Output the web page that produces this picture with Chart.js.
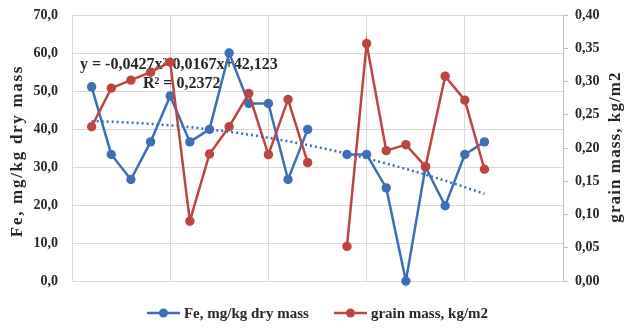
<!DOCTYPE html>
<html>
<head>
<meta charset="utf-8">
<script src="https://cdn.jsdelivr.net/npm/chart.js@4.4.0/dist/chart.umd.min.js"></script>
<style>
    html, body { margin: 0; padding: 0; background: #fff; }
    #wrap { width: 625px; height: 329px; }
</style>
</head>
<body>
<div id="wrap"><canvas id="chart" width="625" height="329"></canvas></div>
<script>
// Dados
const samples = [1, 2, 3, 4, 5, 6, 7, 8, 9, 10, 11, 12, 13, 14, 15, 16, 17, 18, 19, 20, 21];
const feValues = [51.1, 33.3, 26.7, 36.6, 48.7, 36.6, 39.9, 60.0, 46.7, 46.7, 26.7, 39.9, null,
                  33.3, 33.3, 24.5, 0.0, 30.0, 19.8, 33.3, 36.6];
const grainValues = [0.232, 0.290, 0.302, 0.314, 0.329, 0.090, 0.191, 0.232, 0.282, 0.190, 0.273, 0.178, null,
                     0.052, 0.357, 0.196, 0.205, 0.172, 0.308, 0.272, 0.168];
// linha de tendência (pontilhada) lida ao longo da curva
const trendValues = [42.06, 41.92, 41.69, 41.37, 40.97, 40.49, 39.91, 39.26, 38.51, 37.69, 36.77,
                     35.77, 34.69, 33.52, 32.27, 30.92, 29.50, 27.99, 26.39, 24.71, 22.94];
const feTickLabels = ['0,0', '10,0', '20,0', '30,0', '40,0', '50,0', '60,0', '70,0'];
const grainTickLabels = ['0,00', '0,05', '0,10', '0,15', '0,20', '0,25', '0,30', '0,35', '0,40'];
const seriesNames = ['Fe, mg/kg dry mass', 'grain mass, kg/m2'];
const trendText = ['y = -0,0427x²-0,0167x+42,123', 'R² = 0,2372'];

const BLUE = '#3d6fb6';
const RED = '#bc4542';
const TEXT = '#262626';
const GRID = '#d9d9d9';
const SERIF = "'Liberation Serif', 'Times New Roman', serif";

function toPoints(values) {
    return samples.map((x, i) => ({ x: x, y: values[i] }));
}

// Texto da equação (fica atrás das séries)
const equationPlugin = {
    id: 'equation',
    beforeDatasetsDraw(chart) {
        const ctx = chart.ctx;
        const area = chart.chartArea;
        ctx.save();
        ctx.fillStyle = TEXT;
        ctx.font = 'bold 16px ' + SERIF;
        ctx.textBaseline = 'middle';
        ctx.textAlign = 'left';
        ctx.fillText(trendText[0], area.left + 8, area.top + 50);
        ctx.fillText(trendText[1], area.left + 71, area.top + 69);
        ctx.restore();
    }
};

// Desenha texto girado (títulos dos eixos, com espaçamento entre letras)
function drawRotated(ctx, text, x, y, spacing) {
    ctx.save();
    ctx.fillStyle = TEXT;
    ctx.font = 'bold 17px ' + SERIF;
    ctx.letterSpacing = spacing;
    ctx.textAlign = 'center';
    ctx.textBaseline = 'middle';
    ctx.translate(x, y);
    ctx.rotate(-Math.PI / 2);
    ctx.fillText(text, 0, 0);
    ctx.restore();
}

// Títulos dos eixos e legenda
const extrasPlugin = {
    id: 'extras',
    afterDraw(chart) {
        const ctx = chart.ctx;
        const area = chart.chartArea;
        drawRotated(ctx, seriesNames[0], 18, 151, '1.7px');
        drawRotated(ctx, seriesNames[1], 616, 147, '1.1px');

        // legenda
        const colors = [BLUE, RED];
        const symW = 33, gapText = 4, gapItem = 25, y = 313;
        ctx.save();
        ctx.font = 'bold 15px ' + SERIF;
        ctx.textBaseline = 'middle';
        ctx.textAlign = 'left';
        const widths = seriesNames.map(n => symW + gapText + ctx.measureText(n).width);
        const total = widths[0] + widths[1] + gapItem;
        let x = (area.left + area.right) / 2 - total / 2;
        seriesNames.forEach((name, i) => {
            ctx.strokeStyle = colors[i];
            ctx.fillStyle = colors[i];
            ctx.lineWidth = 2.5;
            ctx.beginPath();
            ctx.moveTo(x, y);
            ctx.lineTo(x + symW, y);
            ctx.stroke();
            ctx.beginPath();
            ctx.arc(x + symW / 2, y, 4.5, 0, Math.PI * 2);
            ctx.fill();
            ctx.fillStyle = TEXT;
            ctx.fillText(name, x + symW + gapText, y + 1);
            x += widths[i] + gapItem;
        });
        ctx.restore();
    }
};

// largura fixa dos eixos verticais, sem espaço extra em cima/embaixo
function fixAxis(width) {
    return s => {
        s.width = width;
        s.paddingTop = 0;
        s.paddingBottom = 0;
    };
}

const ctx = document.getElementById('chart').getContext('2d');
const chart = new Chart(ctx, {
    type: 'line',
    data: {
        datasets: [
            {
                label: 'trend', data: toPoints(trendValues), yAxisID: 'y', order: 0,
                borderColor: BLUE, borderWidth: 2.5, borderDash: [2, 3], pointRadius: 0, fill: false
            },
            {
                label: seriesNames[1], data: toPoints(grainValues), yAxisID: 'y1', order: 1,
                borderColor: RED, backgroundColor: RED, borderWidth: 2.5,
                pointRadius: 4.7, pointBorderWidth: 0, pointBackgroundColor: RED, spanGaps: false, clip: false
            },
            {
                label: seriesNames[0], data: toPoints(feValues), yAxisID: 'y', order: 2,
                borderColor: BLUE, backgroundColor: BLUE, borderWidth: 2.5,
                pointRadius: 4.7, pointBorderWidth: 0, pointBackgroundColor: BLUE, spanGaps: false, clip: false
            }
        ]
    },
    options: {
        responsive: false,
        animation: false,
        devicePixelRatio: 1,
        layout: { padding: { top: 15, bottom: 48, left: 0, right: 0 } },
        plugins: { legend: { display: false }, tooltip: { enabled: false } },
        scales: {
            x: {
                type: 'linear', min: 0, max: 25,
                ticks: { display: false, stepSize: 5 },
                grid: { color: GRID, drawTicks: false },
                border: { display: true, color: GRID },
                afterFit: s => { s.height = 0; }
            },
            y: {
                position: 'left', min: 0, max: 70,
                ticks: {
                    stepSize: 10, padding: 14, color: TEXT,
                    font: { family: SERIF, size: 14, weight: 'bold' },
                    callback: (v, i) => feTickLabels[i]
                },
                grid: { color: GRID, drawTicks: false },
                border: { display: false },
                afterFit: fixAxis(72)
            },
            y1: {
                position: 'right', min: 0, max: 0.4,
                ticks: {
                    stepSize: 0.05, padding: 7, color: TEXT,
                    font: { family: SERIF, size: 14, weight: 'bold' },
                    callback: (v, i) => grainTickLabels[i]
                },
                grid: { drawOnChartArea: false, drawTicks: true, tickLength: 5, color: '#bfbfbf' },
                border: { display: true, color: '#bfbfbf' },
                afterFit: fixAxis(62)
            }
        }
    },
    plugins: [equationPlugin, extrasPlugin]
});
</script>
</body>
</html>
